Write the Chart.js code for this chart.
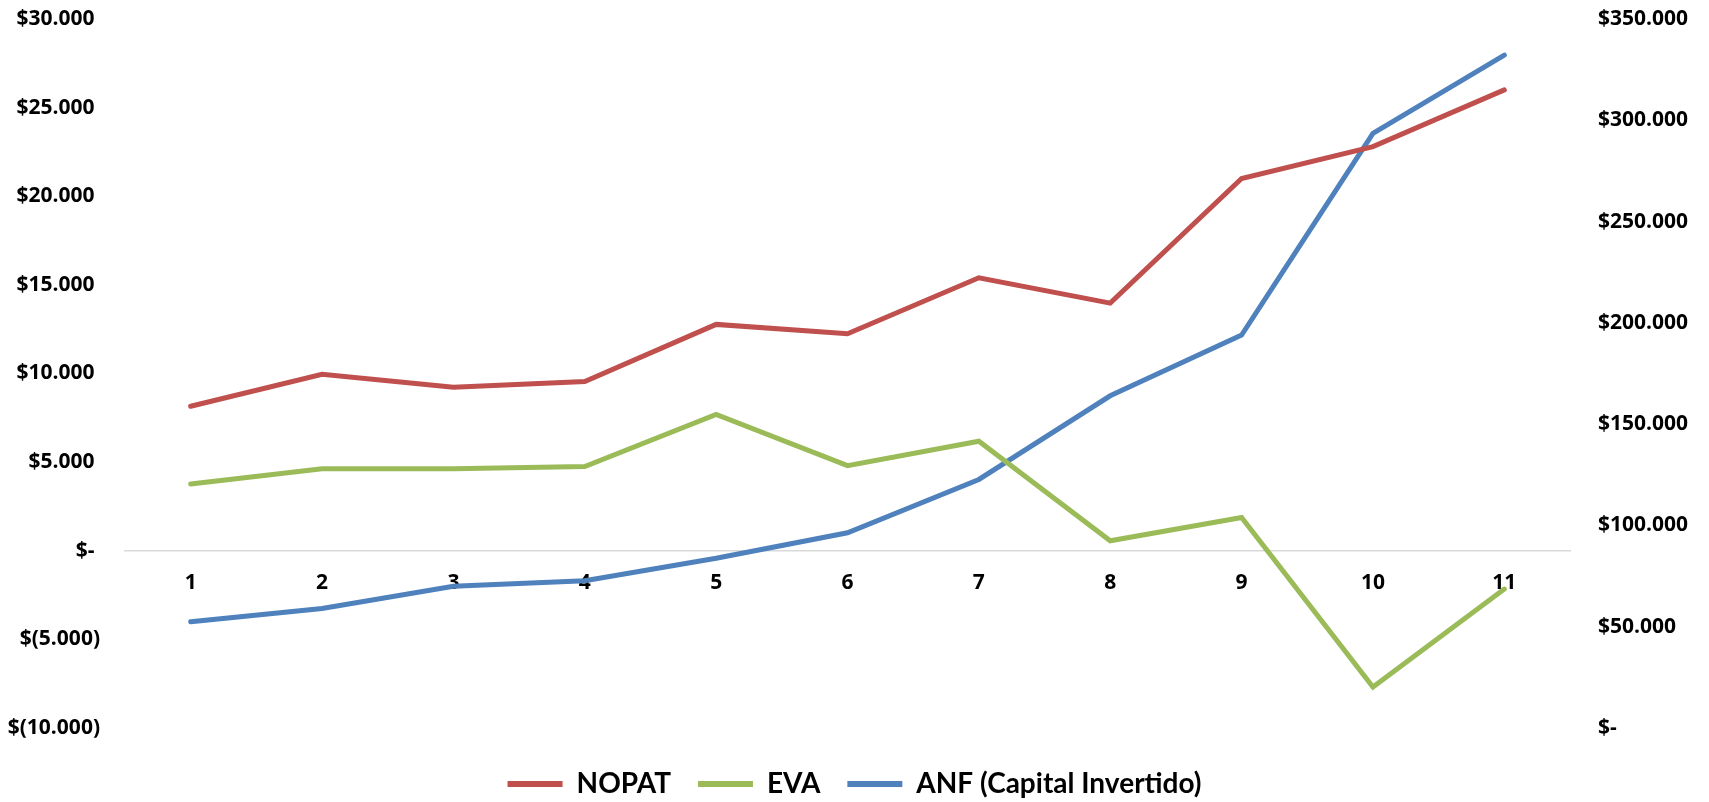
<!DOCTYPE html>
<html>
<head>
<meta charset="utf-8">
<script src="https://cdn.jsdelivr.net/npm/chart.js@4"></script>
<style>
  html, body { margin: 0; padding: 0; background: #fff; }
  #wrap { width: 1709px; height: 802px; position: relative; }
</style>
</head>
<body>
<div id="wrap"><canvas id="evaChart"></canvas></div>
<script>
const categories = ['1', '2', '3', '4', '5', '6', '7', '8', '9', '10', '11'];
const nopat = [8150, 9950, 9220, 9550, 12770, 12240, 15400, 13970, 21000, 22800, 26000];
const eva = [3770, 4620, 4620, 4750, 7690, 4800, 6180, 560, 1880, -7690, -2160];
const anf = [52500, 59000, 70000, 72700, 83800, 96400, 122700, 164000, 194000, 293500, 332200];

// tick labels, bottom to top
const leftTickLabels = ['$(10.000)', '$(5.000)', '$- ', '$5.000 ', '$10.000 ', '$15.000 ', '$20.000 ', '$25.000 ', '$30.000 '];
const rightTickLabels = ['$-', '$50.000', '$100.000', '$150.000', '$200.000', '$250.000', '$300.000', '$350.000'];

const tickFont = { family: "'Open Sans', Lato", size: 21, weight: 'bold' };

// tweak the legend box: extra height and a downward shift of its items
const legendGap = {
  id: 'legendGap',
  beforeInit(chart) {
    const lg = chart.legend;
    const fit = lg.fit;
    lg.fit = function () { fit.call(this); this.height += 8; };
  },
  afterLayout(chart) { chart.legend.top += 15; }
};

function noPad(scale) {
  scale.paddingTop = 0;
  scale.paddingBottom = 0;
}

document.addEventListener('DOMContentLoaded', () => {
  const ctx = document.getElementById('evaChart').getContext('2d');
  new Chart(ctx, {
    type: 'line',
    data: {
      labels: categories,
      datasets: [
        { label: 'NOPAT', data: nopat, yAxisID: 'y', borderColor: '#C0504D', backgroundColor: '#C0504D' },
        { label: 'EVA', data: eva, yAxisID: 'y', borderColor: '#9BBB59', backgroundColor: '#9BBB59' },
        { label: 'ANF (Capital Invertido)', data: anf, yAxisID: 'y1', borderColor: '#4F81BD', backgroundColor: '#4F81BD' }
      ]
    },
    plugins: [legendGap],
    options: {
      responsive: true,
      maintainAspectRatio: false,
      animation: false,
      layout: { padding: { top: 19, bottom: 1 } },
      elements: {
        line: { borderWidth: 5, tension: 0, borderCapStyle: 'round', borderJoinStyle: 'miter' },
        point: { radius: 0, hoverRadius: 0 }
      },
      plugins: {
        tooltip: { enabled: false },
        legend: {
          position: 'bottom',
          labels: {
            color: '#000',
            font: { family: 'Lato', size: 28, weight: 'bold' },
            boxWidth: 55,
            boxHeight: 6,
            padding: 27,
            generateLabels(chart) {
              return Chart.defaults.plugins.legend.labels.generateLabels(chart).map(l => ({ ...l, lineWidth: 0 }));
            }
          }
        }
      },
      scales: {
        x: {
          position: { y: 0 },
          offset: true,
          grid: { display: false, drawTicks: false },
          border: { display: true, color: '#d9d9d9', width: 1.5 },
          ticks: { color: '#000', font: tickFont, padding: 20, maxRotation: 0 },
          afterFit: noPad
        },
        y: {
          position: 'left',
          min: -10000,
          max: 30000,
          grid: { display: false, drawTicks: false },
          border: { display: false },
          ticks: {
            stepSize: 5000,
            color: '#000',
            font: tickFont,
            padding: 25,
            callback: (v, i) => leftTickLabels[i]
          },
          afterFit(scale) { scale.width = 125; noPad(scale); }
        },
        y1: {
          position: 'right',
          min: 0,
          max: 350000,
          grid: { display: false, drawTicks: false },
          border: { display: false },
          ticks: {
            stepSize: 50000,
            color: '#000',
            font: tickFont,
            padding: 28,
            callback: (v, i) => rightTickLabels[i]
          },
          afterFit(scale) { scale.width = 139; noPad(scale); }
        }
      }
    }
  });
});
</script>
</body>
</html>
